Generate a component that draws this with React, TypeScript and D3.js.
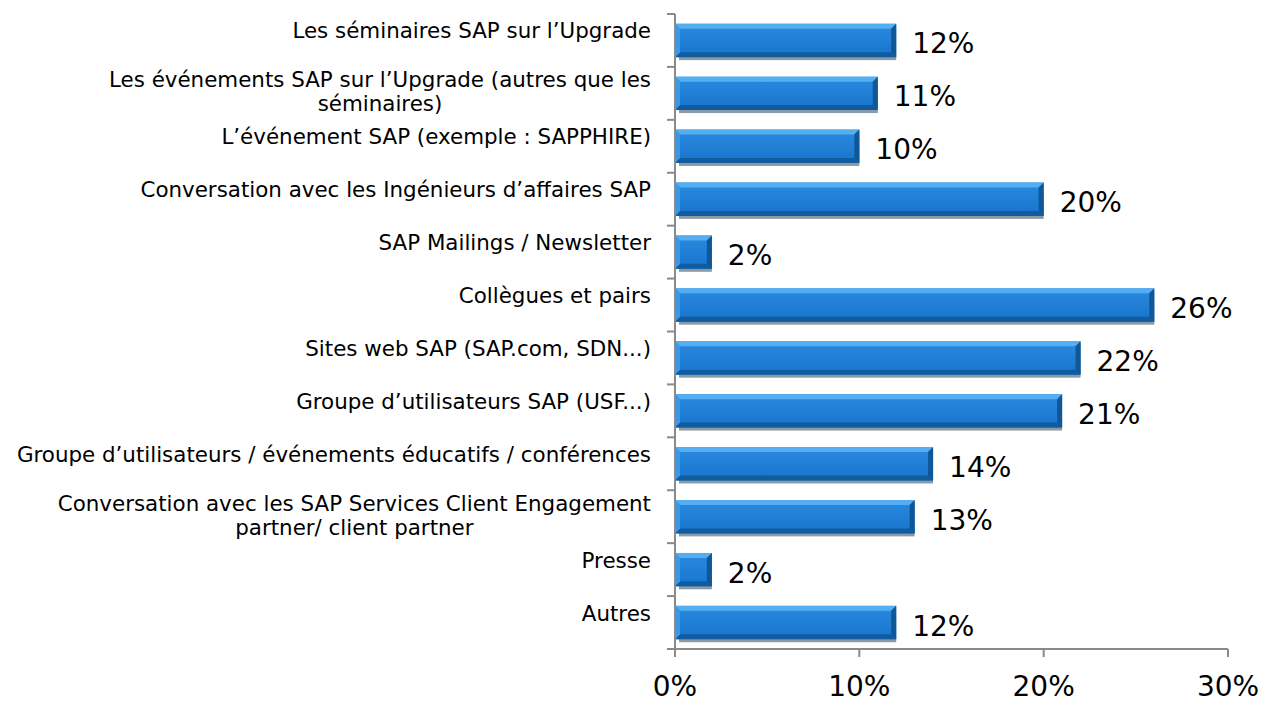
import React from "react";
import * as d3 from "d3";

// categories, top to bottom (multi-line labels split on "|")
const categories = [
  "Les séminaires SAP sur l’Upgrade",
  "Les événements SAP sur l’Upgrade (autres que les|séminaires)",
  "L’événement SAP (exemple : SAPPHIRE)",
  "Conversation avec les Ingénieurs d’affaires SAP",
  "SAP Mailings / Newsletter",
  "Collègues et pairs",
  "Sites web SAP (SAP.com, SDN...)",
  "Groupe d’utilisateurs SAP (USF...)",
  "Groupe d’utilisateurs / événements éducatifs / conférences",
  "Conversation avec les SAP Services Client Engagement|partner/ client partner",
  "Presse",
  "Autres",
];
const values = [12, 11, 10, 20, 2, 26, 22, 21, 14, 13, 2, 12];
const xTicks = [0, 10, 20, 30];

const W = 1264;
const H = 703;
const left = 675;
const right = 1228;
const top = 14;
const bottom = 649;
const labelRight = 651;
const labelFont = "DejaVu Sans, Verdana, sans-serif";
const labelSize = 21.4;

// measure text widths so multi-line labels can be centred inside a right-aligned block
const measure = (() => {
  const ctx = document.createElement("canvas").getContext("2d");
  return (s: string) => {
    if (!ctx) return s.length * labelSize * 0.6;
    ctx.font = `${labelSize}px "DejaVu Sans"`;
    return ctx.measureText(s).width;
  };
})();

const App = () => {
  const x = d3.scaleLinear().domain([0, 30]).range([left, right]);
  const y = d3
    .scaleBand()
    .domain(categories)
    .range([top, bottom])
    .paddingInner(0.37)
    .paddingOuter(0.185);

  const bw = y.bandwidth();
  const bevel = 5;
  const step = y.step();
  const boundaries = d3.range(categories.length + 1).map((i) => top + i * step);

  return (
    <svg
      width={W}
      height={H}
      style={{ position: "absolute", left: 0, top: 0, background: "#fff" }}
    >
      <defs>
        <linearGradient id="face" x1="0" y1="0" x2="0" y2="1">
          <stop offset="0" stopColor="#2a8ae0" />
          <stop offset="1" stopColor="#1874cc" />
        </linearGradient>
      </defs>

      {/* bars */}
      <g>
        {categories.map((c, i) => {
          const x0 = x(0);
          const x1 = x(values[i]);
          const y0 = y(c) as number;
          const y1 = y0 + bw;
          const b = Math.min(bevel, (x1 - x0) / 2);
          return (
            <g key={c}>
              <rect x={x0 + 4} y={y0 + 3} width={x1 - x0 - 4} height={bw} fill="#8c9aa6" />
              <rect x={x0} y={y0} width={x1 - x0} height={bw} fill="url(#face)" />
              {/* top bevel */}
              <polygon
                points={`${x0},${y0} ${x1},${y0} ${x1 - b},${y0 + b} ${x0 + b},${y0 + b}`}
                fill="#55aef2"
              />
              {/* bottom bevel */}
              <polygon
                points={`${x0},${y1} ${x1},${y1} ${x1 - b},${y1 - b} ${x0 + b},${y1 - b}`}
                fill="#115c9e"
              />
              {/* left bevel */}
              <polygon
                points={`${x0},${y0} ${x0 + b},${y0 + b} ${x0 + b},${y1 - b} ${x0},${y1}`}
                fill="#3b98e6"
              />
              {/* right bevel */}
              <polygon
                points={`${x1},${y0} ${x1 - b},${y0 + b} ${x1 - b},${y1 - b} ${x1},${y1}`}
                fill="#0f5796"
              />
              <text
                x={x1 + 16}
                y={y0 + bw / 2 + 5}
                dominantBaseline="middle"
                fontFamily="DejaVu Sans, Verdana, sans-serif"
                fontSize={28}
                fill="#000"
              >
                {values[i]}%
              </text>
            </g>
          );
        })}
      </g>

      {/* y axis */}
      <g stroke="#8a8a8a" strokeWidth={2}>
        <line x1={left} x2={left} y1={top} y2={bottom} />
        {boundaries.map((b, i) => (
          <line key={i} x1={left - 8} x2={left} y1={b} y2={b} />
        ))}
      </g>

      {/* x axis */}
      <g stroke="#8a8a8a" strokeWidth={2}>
        <line x1={left} x2={right} y1={bottom} y2={bottom} />
        {xTicks.map((t) => (
          <line key={t} x1={x(t)} x2={x(t)} y1={bottom} y2={bottom + 8} />
        ))}
      </g>
      {xTicks.map((t) => (
        <text
          key={t}
          x={x(t)}
          y={688}
          textAnchor="middle"
          dominantBaseline="middle"
          fontFamily="DejaVu Sans, Verdana, sans-serif"
          fontSize={28}
          fill="#000"
        >
          {t}%
        </text>
      ))}

      {/* category labels */}
      {categories.map((c) => {
        const lines = c.split("|");
        const cy = (y(c) as number) + bw / 2;
        const lh = 24;
        const start = lines.length === 1 ? cy - 8 : cy - ((lines.length - 1) * lh) / 2;
        const blockW = d3.max(lines, (l) => measure(l)) as number;
        const mid = labelRight - blockW / 2;
        return (
          <text
            key={c}
            fontFamily={labelFont}
            fontSize={labelSize}
            fill="#000"
            textAnchor="middle"
          >
            {lines.map((l, j) => (
              <tspan key={j} x={mid} y={start + j * lh} dominantBaseline="middle">
                {l}
              </tspan>
            ))}
          </text>
        );
      })}
    </svg>
  );
};

export default App;
